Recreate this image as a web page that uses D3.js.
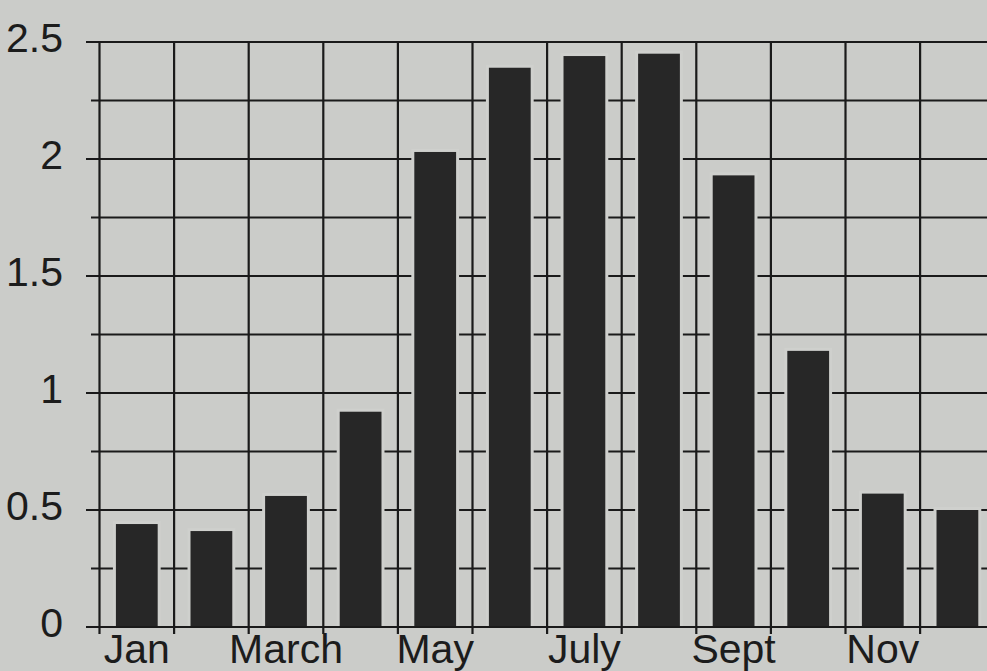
<!DOCTYPE html>
<html>
<head>
<meta charset="utf-8">
<script src="https://cdn.jsdelivr.net/npm/d3@7"></script>
<style>
  html, body { margin: 0; padding: 0; background: #cbccc9; overflow: hidden; }
  svg { display: block; }
  text { font-family: "Liberation Sans", Arial, sans-serif; fill: #1c1c1c; }
</style>
</head>
<body>
<svg id="chart" width="987" height="671"></svg>
<script>
// Data
const months = ["Jan","Feb","Mar","Apr","May","Jun","Jul","Aug","Sep","Oct","Nov","Dec"];
const values = [0.44, 0.41, 0.56, 0.92, 2.03, 2.39, 2.44, 2.45, 1.93, 1.18, 0.57, 0.50];
const monthLabels = ["Jan","","March","","May","","July","","Sept","","Nov",""];
const yTicks = [0, 0.5, 1, 1.5, 2, 2.5];
const yTickLabels = ["0","0.5","1","1.5","2","2.5"];
const yGrid = [0, 0.25, 0.5, 0.75, 1, 1.25, 1.5, 1.75, 2, 2.25, 2.5];

const W = 987, H = 671;
const bg = "#cbccc9", ink = "#1a1a1a", barFill = "#272727";
const svg = d3.select("#chart");
svg.append("rect").attr("width", W).attr("height", H).attr("fill", bg);

const plotLeft = 99.5, step = 74.6;
const pi = 0.44;
const x = d3.scaleBand().domain(months)
  .range([plotLeft, plotLeft + step * months.length])
  .paddingInner(pi).paddingOuter(pi / 2);
const y = d3.scaleLinear().domain([0, 2.5]).range([627, 42]);

// Horizontal gridlines
svg.append("g").selectAll("line").data(yGrid).join("line")
  .attr("x1", d => (Math.round(d * 2) === d * 2 ? 86 : 91))
  .attr("x2", W + 20)
  .attr("y1", d => y(d)).attr("y2", d => y(d))
  .attr("stroke", ink).attr("stroke-width", 2.2);

// Vertical gridlines at month boundaries
const bounds = months.map(m => x(m) - x.step() * pi / 2);
bounds.push(x(months[months.length - 1]) + x.bandwidth() + x.step() * pi / 2);
svg.append("g").selectAll("line").data(bounds).join("line")
  .attr("x1", d => d).attr("x2", d => d)
  .attr("y1", y(2.5) - 1).attr("y2", y(0) + 7)
  .attr("stroke", ink).attr("stroke-width", 2.2);

// Bars with light halo
const bars = svg.append("g");
bars.selectAll("rect.halo").data(values).join("rect").attr("class", "halo")
  .attr("x", (d, i) => x(months[i]) - 3)
  .attr("width", x.bandwidth() + 6)
  .attr("y", d => y(d) - 3)
  .attr("height", d => y(0) - y(d) + 2)
  .attr("fill", "#cfd0cd");
bars.selectAll("rect.bar").data(values).join("rect").attr("class", "bar")
  .attr("x", (d, i) => x(months[i]))
  .attr("width", x.bandwidth())
  .attr("y", d => y(d))
  .attr("height", d => y(0) - y(d))
  .attr("fill", barFill);

// Zero line on top
svg.append("line").attr("x1", 86).attr("x2", W + 20)
  .attr("y1", y(0)).attr("y2", y(0))
  .attr("stroke", ink).attr("stroke-width", 2.2);

// Y tick labels
svg.append("g").selectAll("text").data(yTicks).join("text")
  .attr("x", 63).attr("y", d => y(d) + 9.5)
  .attr("text-anchor", "end").attr("font-size", 41)
  .text((d, i) => yTickLabels[i]);

// X labels
svg.append("g").selectAll("text").data(months).join("text")
  .attr("x", d => x(d) + x.bandwidth() / 2).attr("y", 663)
  .attr("text-anchor", "middle").attr("font-size", 41)
  .text((d, i) => monthLabels[i]);
</script>
</body>
</html>
